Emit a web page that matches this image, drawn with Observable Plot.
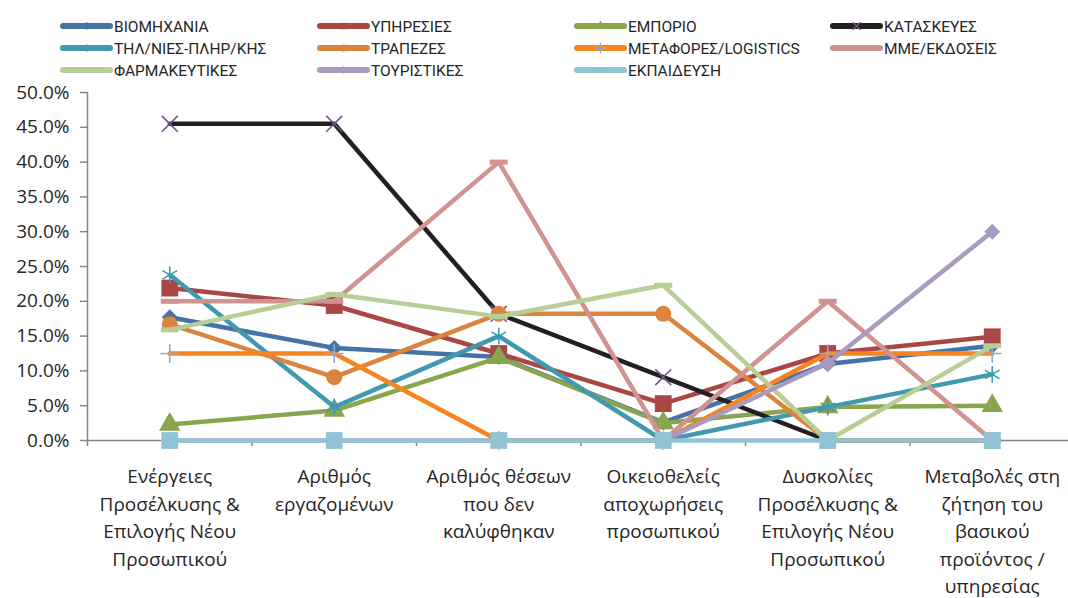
<!DOCTYPE html>
<html>
<head>
<meta charset="utf-8">
<script src="https://cdn.jsdelivr.net/npm/d3@7"></script>
<script src="https://cdn.jsdelivr.net/npm/@observablehq/plot@0.6"></script>
<style>
  html, body { margin: 0; padding: 0; background: #fff; }
  #wrap { position: relative; width: 1068px; height: 598px; overflow: hidden; }
  #legend { position: absolute; left: 0; top: 0; }
  #chart { position: absolute; left: 0; top: 0; }
</style>
</head>
<body>
<div id="wrap"><div id="chart"></div><svg id="legend" width="1068" height="88"></svg></div>
<script>
// ---- data ----
const categories = [
  "Ενέργειες\nΠροσέλκυσης &\nΕπιλογής Νέου\nΠροσωπικού",
  "Αριθμός\nεργαζομένων",
  "Αριθμός θέσεων\nπου δεν\nκαλύφθηκαν",
  "Οικειοθελείς\nαποχωρήσεις\nπροσωπικού",
  "Δυσκολίες\nΠροσέλκυσης &\nΕπιλογής Νέου\nΠροσωπικού",
  "Μεταβολές στη\nζήτηση του\nβασικού\nπροϊόντος /\nυπηρεσίας"
];
const seriesNames = ["ΒΙΟΜΗΧΑΝΙΑ","ΥΠΗΡΕΣΙΕΣ","ΕΜΠΟΡΙΟ","ΚΑΤΑΣΚΕΥΕΣ","ΤΗΛ/ΝΙΕΣ-ΠΛΗΡ/ΚΗΣ","ΤΡΑΠΕΖΕΣ","ΜΕΤΑΦΟΡΕΣ/LOGISTICS","ΜΜΕ/ΕΚΔΟΣΕΙΣ","ΦΑΡΜΑΚΕΥΤΙΚΕΣ","ΤΟΥΡΙΣΤΙΚΕΣ","ΕΚΠΑΙΔΕΥΣΗ"];
// values in percent
const viomichania   = [17.7, 13.3, 12.0,  2.6, 11.0, 13.6];
const ypiresies     = [21.9, 19.4, 12.5,  5.3, 12.5, 14.9];
const emporio       = [ 2.3,  4.3, 11.9,  2.5,  4.8,  5.0];
const kataskeves    = [45.5, 45.5, 18.2,  9.1,  0.0,  0.0];
const tilepikoinonies = [23.8, 4.8, 15.0, 0.0,  4.8,  9.5];
const trapezes      = [16.7,  9.1, 18.2, 18.2,  0.0,  0.0];
const metafores     = [12.5, 12.5,  0.0,  0.0, 12.5, 12.5];
const mme           = [20.0, 20.0, 40.0,  0.0, 20.0,  0.0];
const farmakeftikes = [15.9, 21.0, 17.8, 22.3,  0.0, 13.6];
const touristikes   = [ 0.0,  0.0,  0.0,  0.0, 11.1, 30.0];
const ekpaidefsi    = [ 0.0,  0.0,  0.0,  0.0,  0.0,  0.0];
const seriesValues = [viomichania, ypiresies, emporio, kataskeves, tilepikoinonies, trapezes, metafores, mme, farmakeftikes, touristikes, ekpaidefsi];
const yTicks = [0, 0.05, 0.10, 0.15, 0.20, 0.25, 0.30, 0.35, 0.40, 0.45, 0.50];

// ---- styles ----
const dash = { draw(ctx, size) { ctx.rect(-9, -2.5, 18, 5); } };
const styles = [
  {line: "#4572A7", mark: "#4572A7", symbol: "diamond2", r: 7.2, filled: true},
  {line: "#AA4643", mark: "#AA4643", symbol: "square", r: 9.5, filled: true},
  {line: "#89A54E", mark: "#89A54E", symbol: "triangle", r: 8, filled: true},
  {line: "#231F20", mark: "#71588F", symbol: "times", r: 7.3, filled: false},
  {line: "#4198AF", mark: "#4198AF", symbol: "asterisk", r: 8, filled: false},
  {line: "#DB843D", mark: "#DB843D", symbol: "circle", r: 8, filled: true},
  {line: "#F7841F", mark: "#93A9CF", symbol: "plus", r: 6, filled: false},
  {line: "#D19392", mark: "#D19392", symbol: dash, r: 8, filled: true},
  {line: "#B9CD96", mark: "#B9CD96", symbol: dash, r: 8, filled: true},
  {line: "#A99BBD", mark: "#A99BBD", symbol: "diamond2", r: 7.2, filled: true},
  {line: "#92C3D5", mark: "#92C3D5", symbol: "square", r: 9.5, filled: true}
];

const rows = seriesNames.flatMap((s, si) => seriesValues[si].map((v, i) => ({series: s, si, i, v: v / 100})));

const marks = [
  Plot.ruleX([-0.5], {stroke: "#868686", strokeWidth: 1.5}),
  Plot.ruleY([0], {stroke: "#868686", strokeWidth: 1.5}),
  Plot.axisY({ticks: yTicks, tickFormat: d3.format(".1%"), tickSize: 7, tickPadding: 11, fontSize: 19, stroke: "#868686", fill: "#262626", strokeWidth: 1.5, label: null}),
  Plot.axisX({ticks: d3.range(-0.5, 6, 1), tickFormat: () => "", tickSize: 6, stroke: "#868686", strokeWidth: 1.5, label: null}),
  Plot.text(categories, {x: (d, i) => i, frameAnchor: "bottom", dy: 23, lineAnchor: "top", lineHeight: 1.45, fontSize: 19, fill: "#262626", text: d => d})
];
seriesNames.forEach((s, si) => {
  const data = rows.filter(d => d.si === si);
  const st = styles[si];
  marks.push(Plot.line(data, {x: "i", y: "v", stroke: st.line, strokeWidth: 4.5, strokeLinejoin: "round"}));
  marks.push(Plot.dot(data, st.filled
    ? {x: "i", y: "v", symbol: () => st.symbol, r: st.r, fill: st.mark, stroke: "none"}
    : {x: "i", y: "v", symbol: () => st.symbol, r: st.r, fill: "none", stroke: st.mark, strokeWidth: 1.6}));
});

const chart = Plot.plot({
  width: 1068, height: 598,
  marginTop: 92, marginBottom: 158, marginLeft: 87, marginRight: 0,
  style: {fontFamily: "'Open Sans', sans-serif", background: "transparent"},
  x: {type: "linear", domain: [-0.5, 5.5], range: [87, 1074], axis: null},
  y: {domain: [0, 0.5], range: [440, 92], axis: null},
  symbol: {type: "identity"},
  marks
});
document.getElementById("chart").appendChild(chart);

// ---- legend ----
const leg = d3.select("#legend");
const colX = [63, 320, 577, 833];
const rowY = [26, 48, 70];
seriesNames.forEach((s, si) => {
  const st = styles[si];
  const x = colX[si % 4], y = rowY[Math.floor(si / 4)];
  const g = leg.append("g").attr("transform", `translate(${x},${y})`);
  g.append("line").attr("x1", 0).attr("x2", 47).attr("y1", 0).attr("y2", 0)
    .attr("stroke", st.line).attr("stroke-width", 6).attr("stroke-linecap", "round");
  const symMap = {diamond2: d3.symbolDiamond2, square: d3.symbolSquare, triangle: d3.symbolTriangle, times: d3.symbolTimes, asterisk: d3.symbolAsterisk, circle: d3.symbolCircle, plus: d3.symbolPlus};
  const sym = typeof st.symbol === "string" ? symMap[st.symbol] : null;
  if (sym) {
    g.append("path").attr("transform", "translate(23.5,0)")
      .attr("d", d3.symbol(sym, 40)())
      .attr("fill", st.filled ? st.mark : "none")
      .attr("stroke", st.filled ? "none" : st.mark).attr("stroke-width", 1.3);
  }
  g.append("text").attr("x", 51).attr("y", 0).attr("dy", "0.36em")
    .attr("font-family", "Roboto, 'Open Sans', sans-serif").attr("font-size", 15.5)
    .attr("fill", "#262626").text(s);
});
</script>
</body>
</html>
